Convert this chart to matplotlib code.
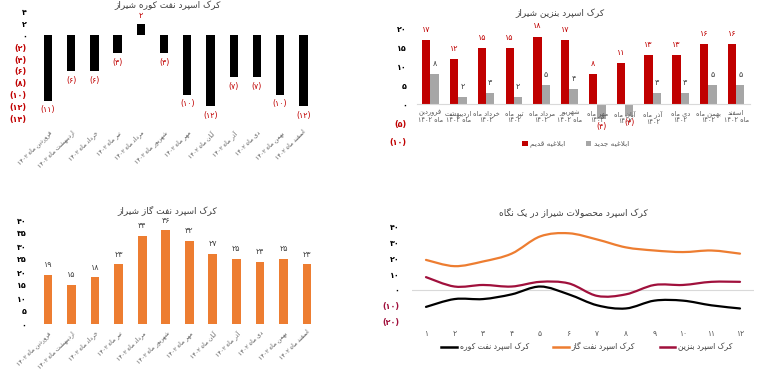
import matplotlib
matplotlib.use("Agg")
import matplotlib.pyplot as plt
from matplotlib.path import Path
from matplotlib.patches import PathPatch
from matplotlib.lines import Line2D

plt.rcParams['font.family'] = ['DejaVu Sans']

# ---------------- data ----------------
months = ["فروردین", "اردیبهشت", "خرداد", "تیر", "مرداد", "شهریور",
          "مهر", "آبان", "آذر", "دی", "بهمن", "اسفند"]
year = "۱۴۰۲"
fuel_oil = [-11, -6, -6, -3, 2, -3, -10, -12, -7, -7, -10, -12]
gasoline_old = [17, 12, 15, 15, 18, 17, 8, 11, 13, 13, 16, 16]
gasoline_new = [8, 2, 3, 2, 5, 4, -4, -3, 3, 3, 5, 5]
gas_oil = [19, 15, 18, 23, 34, 36, 32, 27, 25, 24, 25, 23]

title_fuel = "کرک اسپرد نفت کوره شیراز"
title_gasoline = "کرک اسپرد بنزین شیراز"
title_gasoil = "کرک اسپرد نفت گاز شیراز"
title_all = "کرک اسپرد محصولات شیراز در یک نگاه"
leg_old = "ابلاغیه قدیم"
leg_new = "ابلاغیه جدید"
leg_fuel = "کرک اسپرد نفت کوره"
leg_gasoil = "کرک اسپرد نفت گاز"
leg_gasoline = "کرک اسپرد بنزین"

# ---------------- Persian text helpers ----------------
FORMS = {
    '\u0627': ('\uFE8D', '\uFE8E', None, None),
    '\u0622': ('\uFE81', '\uFE82', None, None),
    '\u0628': ('\uFE8F', '\uFE90', '\uFE91', '\uFE92'),
    '\u067E': ('\uFB56', '\uFB57', '\uFB58', '\uFB59'),
    '\u062A': ('\uFE95', '\uFE96', '\uFE97', '\uFE98'),
    '\u062C': ('\uFE9D', '\uFE9E', '\uFE9F', '\uFEA0'),
    '\u062D': ('\uFEA1', '\uFEA2', '\uFEA3', '\uFEA4'),
    '\u062E': ('\uFEA5', '\uFEA6', '\uFEA7', '\uFEA8'),
    '\u062F': ('\uFEA9', '\uFEAA', None, None),
    '\u0630': ('\uFEAB', '\uFEAC', None, None),
    '\u0631': ('\uFEAD', '\uFEAE', None, None),
    '\u0632': ('\uFEAF', '\uFEB0', None, None),
    '\u0633': ('\uFEB1', '\uFEB2', '\uFEB3', '\uFEB4'),
    '\u0634': ('\uFEB5', '\uFEB6', '\uFEB7', '\uFEB8'),
    '\u0635': ('\uFEB9', '\uFEBA', '\uFEBB', '\uFEBC'),
    '\u0639': ('\uFEC9', '\uFECA', '\uFECB', '\uFECC'),
    '\u063A': ('\uFECD', '\uFECE', '\uFECF', '\uFED0'),
    '\u0641': ('\uFED1', '\uFED2', '\uFED3', '\uFED4'),
    '\u0642': ('\uFED5', '\uFED6', '\uFED7', '\uFED8'),
    '\u06A9': ('\uFB8E', '\uFB8F', '\uFB90', '\uFB91'),
    '\u06AF': ('\uFB92', '\uFB93', '\uFB94', '\uFB95'),
    '\u0644': ('\uFEDD', '\uFEDE', '\uFEDF', '\uFEE0'),
    '\u0645': ('\uFEE1', '\uFEE2', '\uFEE3', '\uFEE4'),
    '\u0646': ('\uFEE5', '\uFEE6', '\uFEE7', '\uFEE8'),
    '\u0647': ('\uFEE9', '\uFEEA', '\uFEEB', '\uFEEC'),
    '\u0648': ('\uFEED', '\uFEEE', None, None),
    '\u06CC': ('\uFBFC', '\uFBFD', '\uFBFE', '\uFBFF'),
}
LAMALEF = {'\u0627': ('\uFEFB', '\uFEFC'), '\u0622': ('\uFEF5', '\uFEF6')}
DIGITS = set('0123456789۰۱۲۳۴۵۶۷۸۹')


def _shape(s):
    out = []
    n = len(s)
    i = 0
    while i < n:
        c = s[i]
        if c not in FORMS:
            out.append(c)
            i += 1
            continue
        prev = s[i - 1] if i > 0 else None
        prev_joins = prev in FORMS and FORMS[prev][2] is not None
        if c == '\u0644' and i + 1 < n and s[i + 1] in LAMALEF:
            lig = LAMALEF[s[i + 1]]
            out.append(lig[1] if prev_joins else lig[0])
            i += 2
            continue
        nxt = s[i + 1] if i + 1 < n else None
        f = FORMS[c]
        join_next = f[2] is not None and nxt in FORMS
        if prev_joins and join_next:
            out.append(f[3])
        elif prev_joins:
            out.append(f[1])
        elif join_next:
            out.append(f[2])
        else:
            out.append(f[0])
        i += 1
    return ''.join(out)


def _visual(s):
    runs = []
    for ch in s:
        isd = ch in DIGITS
        if runs and runs[-1][0] == isd:
            runs[-1][1].append(ch)
        else:
            runs.append([isd, [ch]])
    parts = []
    for isd, chars in reversed(runs):
        parts.append(''.join(chars) if isd else ''.join(reversed(chars)))
    return ''.join(parts)


def fa(s):
    return '\n'.join(_visual(_shape(line)) for line in s.split('\n'))


def fnum(v):
    t = str(abs(int(v))).translate(str.maketrans('0123456789', '۰۱۲۳۴۵۶۷۸۹'))
    return '(' + t + ')' if v < 0 else t


RED = '#C00000'
GREY = '#A6A6A6'
ORANGE = '#ED7D31'
CRIMSON = '#A0103C'
TXT = '#404040'

W, H = 776, 372
fig = plt.figure(figsize=(W / 100, H / 100), dpi=100)


def add_ax(l, r, t, b):
    return fig.add_axes([l / W, 1 - b / H, (r - l) / W, (b - t) / H])


def clean(ax):
    for s in ax.spines.values():
        s.set_visible(False)
    ax.tick_params(length=0)


def style_yticks(ax, ticks, neg_color=RED):
    ax.set_yticks(ticks)
    ax.set_yticklabels([fnum(t) for t in ticks])
    for lab, t in zip(ax.get_yticklabels(), ticks):
        lab.set_color(neg_color if t < 0 else 'black')
        lab.set_fontweight('bold')
        lab.set_fontsize(5.8)


rot_labels = [fa(m + " ماه " + year) for m in months]
x = list(range(len(months)))

# ---------------- top-left: fuel oil ----------------
ax1 = add_ax(36.4, 315, 11.7, 118.3)
clean(ax1)
ax1.bar(x, fuel_oil, width=0.36, color='black')
ax1.set_ylim(-14, 4)
ax1.set_xlim(-0.5, 11.5)
style_yticks(ax1, list(range(-14, 5, 2)))
ax1.set_xticks(x)
ax1.set_xticklabels(rot_labels, rotation=45, ha='right', va='top',
                    rotation_mode='anchor', fontsize=4.3, color='#595959')
ax1.tick_params(axis='x', pad=8)
ax1.tick_params(axis='y', pad=7)
for xi, v in zip(x, fuel_oil):
    ax1.annotate(fnum(v), (xi, v), xytext=(0, 2.5 if v >= 0 else -3.5),
                 textcoords='offset points', ha='center',
                 va='bottom' if v >= 0 else 'top', color=RED, fontsize=5.8)
fig.text(168 / W, 1 - 5 / H, fa(title_fuel), ha='center', va='center',
         fontsize=6.5, color='#404040')

# ---------------- top-right: gasoline ----------------
ax2 = add_ax(416.6, 750, 29, 142)
clean(ax2)
bw = 0.3
xo = [xi - bw / 2 for xi in x]
xn = [xi + bw / 2 for xi in x]
ax2.bar(xo, gasoline_old, width=bw, color=RED, label=fa(leg_old))
ax2.bar(xn, gasoline_new, width=bw, color=GREY, label=fa(leg_new))
ax2.set_ylim(-10, 20)
ax2.set_xlim(-0.5, 11.5)
style_yticks(ax2, list(range(-10, 21, 5)))
ax2.tick_params(axis='y', pad=7)
ax2.spines['bottom'].set_visible(True)
ax2.spines['bottom'].set_position(('data', 0))
ax2.spines['bottom'].set_color('#D9D9D9')
ax2.spines['bottom'].set_linewidth(0.8)
wrap = ["فروردین\nماه " + year, "اردیبهشت\nماه " + year, "خرداد ماه\n" + year,
        "تیر ماه\n" + year, "مرداد ماه\n" + year, "شهریور\nماه " + year,
        "مهر ماه\n" + year, "آبان ماه\n" + year, "آذر ماه\n" + year,
        "دی ماه\n" + year, "بهمن ماه\n" + year, "اسفند\nماه " + year]
ax2.set_xticks(x)
ax2.set_xticklabels([fa(w) for w in wrap], fontsize=4.8, color='#595959',
                    linespacing=1.15)
ax2.tick_params(axis='x', pad=4)
for xi, v in zip(xo, gasoline_old):
    ax2.annotate(fnum(v), (xi, v), xytext=(0, 4.5), textcoords='offset points',
                 ha='center', va='bottom', color=RED, fontsize=5.8)
for xi, v in zip(xn, gasoline_new):
    ax2.annotate(fnum(v), (xi, v), xytext=(0, 4.5 if v >= 0 else -2),
                 textcoords='offset points', ha='center',
                 va='bottom' if v >= 0 else 'top',
                 color=RED if v < 0 else TXT, fontsize=5.8)
fig.text(560 / W, 1 - 13 / H, fa(title_gasoline), ha='center', va='center',
         fontsize=6.5, color='#404040')
ax2.legend(loc='center', bbox_to_anchor=(576 / W, 1 - 144 / H),
           bbox_transform=fig.transFigure, ncol=2, frameon=False,
           fontsize=5.3, handlelength=0.7, handleheight=0.7,
           columnspacing=2.8, handletextpad=0.4, labelcolor='#595959')

# ---------------- bottom-left: gas oil ----------------
ax3 = add_ax(36.2, 318.8, 220, 324)
clean(ax3)
ax3.bar(x, gas_oil, width=0.37, color=ORANGE)
ax3.set_ylim(0, 40)
ax3.set_xlim(-0.5, 11.5)
style_yticks(ax3, list(range(0, 41, 5)))
ax3.tick_params(axis='y', pad=7)
ax3.set_xticks(x)
ax3.set_xticklabels(rot_labels, rotation=45, ha='right', va='top',
                    rotation_mode='anchor', fontsize=4.3, color='#595959')
ax3.tick_params(axis='x', pad=4)
for xi, v in zip(x, gas_oil):
    ax3.annotate(fnum(v), (xi, v), xytext=(0, 4), textcoords='offset points',
                 ha='center', va='bottom', color=TXT, fontsize=5.8)
fig.text(167 / W, 1 - 210 / H, fa(title_gasoil), ha='center', va='center',
         fontsize=6.5, color='#404040')

# ---------------- bottom-right: overview lines ----------------
ax4 = add_ax(412, 754, 227, 321)
clean(ax4)
xs = list(range(1, 13))
ax4.set_xlim(0.51, 12.49)
ax4.set_ylim(-20, 40)
ax4.axhline(0, color='#D9D9D9', lw=0.8, zorder=0)
style_yticks(ax4, list(range(-20, 41, 10)), neg_color=CRIMSON)
ax4.tick_params(axis='y', pad=9)
ax4.set_xticks(xs)
ax4.set_xticklabels([fnum(v) for v in xs], fontsize=5.5, color='#595959')
ax4.tick_params(axis='x', pad=6)


def smooth_path(xv, yv):
    pts = list(zip(xv, yv))
    n = len(pts)
    verts = [pts[0]]
    codes = [Path.MOVETO]
    for i in range(n - 1):
        p0 = pts[i - 1] if i > 0 else pts[i]
        p1 = pts[i]
        p2 = pts[i + 1]
        p3 = pts[i + 2] if i + 2 < n else pts[i + 1]
        c1 = (p1[0] + (p2[0] - p0[0]) / 6, p1[1] + (p2[1] - p0[1]) / 6)
        c2 = (p2[0] - (p3[0] - p1[0]) / 6, p2[1] - (p3[1] - p1[1]) / 6)
        verts += [c1, c2, p2]
        codes += [Path.CURVE4] * 3
    return Path(verts, codes)


for series, col in [(fuel_oil, 'black'), (gas_oil, ORANGE), (gasoline_new, CRIMSON)]:
    ax4.add_patch(PathPatch(smooth_path(xs, series), fill=False,
                            edgecolor=col, lw=1.6, capstyle='round'))

fig.text(573 / W, 1 - 212 / H, fa(title_all), ha='center', va='center',
         fontsize=6.5, color='#404040')
handles = [Line2D([], [], color='black', lw=1.8),
           Line2D([], [], color=ORANGE, lw=1.8),
           Line2D([], [], color=CRIMSON, lw=1.8)]
ax4.legend(handles, [fa(leg_fuel), fa(leg_gasoil), fa(leg_gasoline)],
           loc='center', bbox_to_anchor=(587 / W, 1 - 347 / H),
           bbox_transform=fig.transFigure, ncol=3, frameon=False,
           fontsize=5.5, handlelength=2.0, columnspacing=3.2,
           handletextpad=0.4, labelcolor='#404040')

fig.savefig('out.png', dpi=100, facecolor='white')
